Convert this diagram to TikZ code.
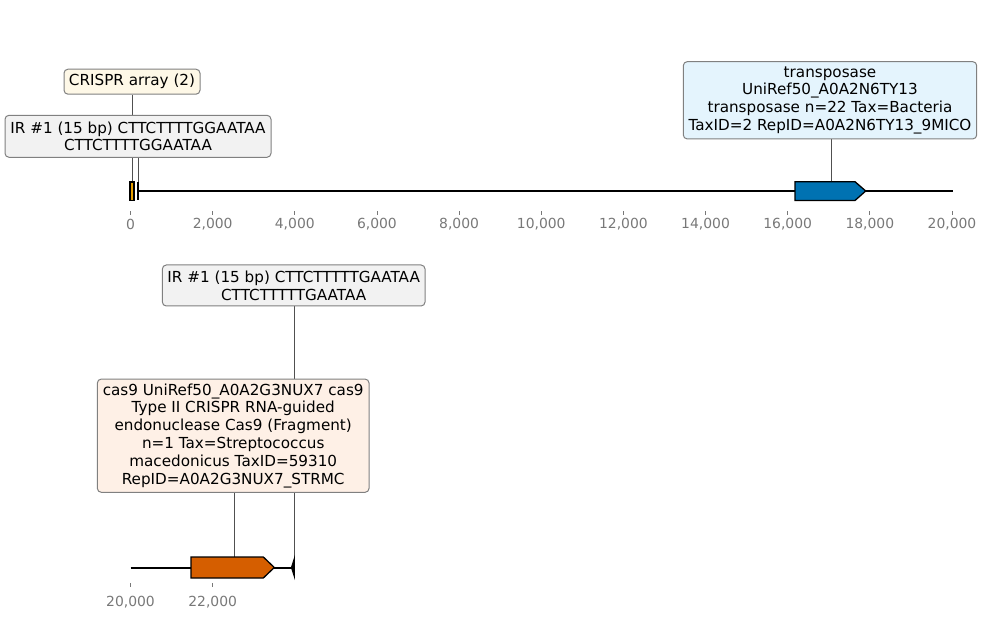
\documentclass[tikz,border=0pt]{standalone}
\usepackage{fontspec}
\setmainfont{DejaVu Sans}
\pgfdeclarelayer{bg}
\pgfsetlayers{bg,main}
\definecolor{edgegray}{RGB}{128,128,128}
\definecolor{ticktext}{RGB}{120,120,120}
\definecolor{linkgray}{RGB}{80,80,80}
\definecolor{crisprfill}{RGB}{254,248,231}
\definecolor{irfill}{RGB}{242,242,242}
\definecolor{transfill}{RGB}{228,244,253}
\definecolor{casfill}{RGB}{254,240,230}
\definecolor{orangefeat}{RGB}{230,159,0}
\definecolor{bluefeat}{RGB}{0,114,178}
\definecolor{vermfeat}{RGB}{213,94,0}
\tikzset{
  x=1pt, y=-1pt,
  every node/.style={font=\fontsize{15.2}{17.8}\selectfont},
  labelbox/.style={draw=edgegray, line width=1pt, rounded corners=4pt, align=center, inner sep=0pt},
  link/.style={draw=linkgray, line width=0.8pt},
  featbox/.style={draw=black, line width=1.3pt},
  axisline/.style={draw=black, line width=2pt},
  tickmark/.style={draw=ticktext, line width=0.8pt},
  ticklabel/.style={text=ticktext, inner sep=0pt, anchor=center, font=\fontsize{13.9}{16}\selectfont}
}
\begin{document}
\begin{tikzpicture}
\useasboundingbox (0,0) rectangle (986,620);

% ---------- top track ----------
\coordinate (ax1) at (952.5,190.7);
\draw[axisline] (137.5,190.7) -- (ax1);

% CRISPR array feature (orange)
\draw[featbox, fill=orangefeat] (130,182) rectangle (134,200.5);
\coordinate (crtop) at (132.7,182);
% IR bar
\draw[black, line width=1.8pt] (137.8,182) -- (137.8,200.5);
\coordinate (irtop) at (138,182);
% transposase arrow
\draw[featbox, fill=bluefeat] (795,181.7) -- (855,181.7) -- (865.7,191) -- (855,200.5) -- (795,200.5) -- cycle;
\coordinate (trtop) at (831.7,181.7);

% top ticks
\foreach \i/\lab in {0/0,1/{2,000},2/{4,000},3/{6,000},4/{8,000},5/{10,000},6/{12,000},7/{14,000},8/{16,000},9/{18,000},10/{20,000}}{
  \draw[tickmark] (130.5+82.15*\i,211.5) -- (130.5+82.15*\i,215);
  \node[ticklabel] at (130.5+82.15*\i,224.5) {\lab};
}

% top labels
\node[labelbox, fill=crisprfill, minimum width=136pt, minimum height=25pt] (crispr) at (132,81.7) {CRISPR array (2)};
\node[labelbox, fill=irfill, minimum width=266pt, minimum height=42pt] (irone) at (138,136.3) {IR \#1 (15 bp) CTTCTTTTGGAATAA\\CTTCTTTTGGAATAA};
\node[labelbox, fill=transfill, minimum width=293.4pt, minimum height=77.3pt] (trans) at (830,100.3) {transposase\\UniRef50\_A0A2N6TY13\\transposase n=22 Tax=Bacteria\\TaxID=2 RepID=A0A2N6TY13\_9MICO};

\begin{pgfonlayer}{bg}
  \draw[link] (crispr.south -| crtop) -- (crtop);
  \draw[link] (irone.south -| irtop) -- (irtop);
  \draw[link] (trans.south -| trtop) -- (trtop);
\end{pgfonlayer}

% ---------- bottom track ----------
\draw[axisline] (130.5,567.5) -- (292,567.5);
% cas9 arrow
\draw[featbox, fill=vermfeat] (191,557) -- (263.3,557) -- (274.3,567.5) -- (263.3,578) -- (191,578) -- cycle;
\coordinate (castop) at (234.3,557);
% end marker
\draw[fill=black, draw=black, line width=0.9pt] (294.5,557.7) -- (294.5,577.3) -- (291.4,567.5) -- cycle;
\coordinate (endtop) at (294.3,557.7);

% bottom ticks
\draw[tickmark] (130.5,583) -- (130.5,587);
\node[ticklabel] at (130.5,602) {20,000};
\draw[tickmark] (212.7,583) -- (212.7,587);
\node[ticklabel] at (212.7,602) {22,000};

% bottom labels
\node[labelbox, fill=irfill, minimum width=262.7pt, minimum height=41pt] (irtwo) at (293.7,285.5) {IR \#1 (15 bp) CTTCTTTTTGAATAA\\CTTCTTTTTGAATAA};
\node[labelbox, fill=casfill, minimum width=271.7pt, minimum height=113.3pt] (cas) at (233.2,435.7) {cas9 UniRef50\_A0A2G3NUX7 cas9\\Type II CRISPR RNA-guided\\endonuclease Cas9 (Fragment)\\n=1 Tax=Streptococcus\\macedonicus TaxID=59310\\RepID=A0A2G3NUX7\_STRMC};

\begin{pgfonlayer}{bg}
  \draw[link] (irtwo.south -| endtop) -- (endtop);
  \draw[link] (cas.south -| castop) -- (castop);
\end{pgfonlayer}
\end{tikzpicture}
\end{document}
